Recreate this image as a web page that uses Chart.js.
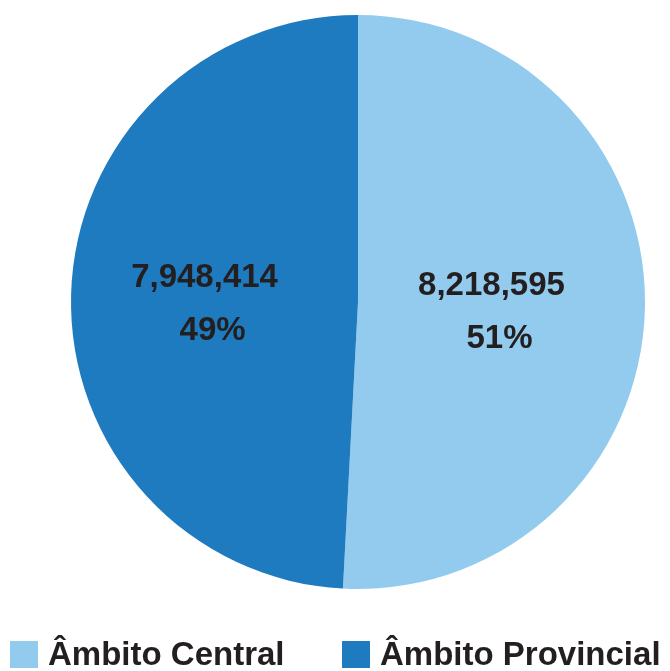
<!DOCTYPE html>
<html>
<head>
<meta charset="utf-8">
<script src="https://cdn.jsdelivr.net/npm/chart.js@4/dist/chart.umd.min.js"></script>
<style>
  body { margin: 0; background: #fff; }
  #wrap { position: relative; width: 670px; height: 671px; }
  #legend { position: absolute; left: 0; top: 636px; width: 670px; height: 35px;
    font: bold 33px "Liberation Sans", Arial, sans-serif; color: #231f20; }
  .item { position: absolute; top: 0; white-space: nowrap; line-height: 35px; }
  .box { display: inline-block; width: 28px; height: 27px; vertical-align: -3px; margin-right: 10px; }
</style>
</head>
<body>
<div id="wrap">
  <canvas id="myChart" width="670" height="671"></canvas>
  <div id="legend"></div>
</div>
<script>
const categories = ["Âmbito Central", "Âmbito Provincial"];
const values = [8218595, 7948414];
const colors = ["#93cbee", "#1f7bc0"];

const total = values.reduce((a, b) => a + b, 0);

// slice labels: value on first line, percent below
const sliceLabels = {
  id: "sliceLabels",
  afterDatasetsDraw(chart) {
    const ctx = chart.ctx;
    const meta = chart.getDatasetMeta(0);
    ctx.save();
    ctx.fillStyle = "#231f20";
    ctx.font = 'bold 33px "Liberation Sans", Arial, sans-serif';
    ctx.textAlign = "center";
    ctx.textBaseline = "middle";
    meta.data.forEach((arc, i) => {
      const p = arc.tooltipPosition();
      const v = values[i];
      const pct = Math.round(v / total * 100) + "%";
      ctx.fillText(v.toLocaleString("en-US"), p.x - 10, p.y - 20);
      ctx.fillText(pct, p.x - 2, p.y + 33);
    });
    ctx.restore();
  }
};

new Chart(document.getElementById("myChart"), {
  type: "pie",
  data: {
    labels: categories,
    datasets: [{
      data: values,
      backgroundColor: colors,
      borderWidth: 0
    }]
  },
  options: {
    responsive: false,
    animation: false,
    layout: { padding: { top: 15, bottom: 82, left: 46, right: 0 } },
    plugins: {
      legend: { display: false },
      tooltip: { enabled: false }
    }
  },
  plugins: [sliceLabels]
});

const legend = document.getElementById("legend");
const lefts = [10, 342];
categories.forEach((c, i) => {
  const item = document.createElement("div");
  item.className = "item";
  item.style.left = lefts[i] + "px";
  item.innerHTML = '<span class="box" style="background:' + colors[i] + '"></span>' + c;
  legend.appendChild(item);
});
</script>
</body>
</html>
